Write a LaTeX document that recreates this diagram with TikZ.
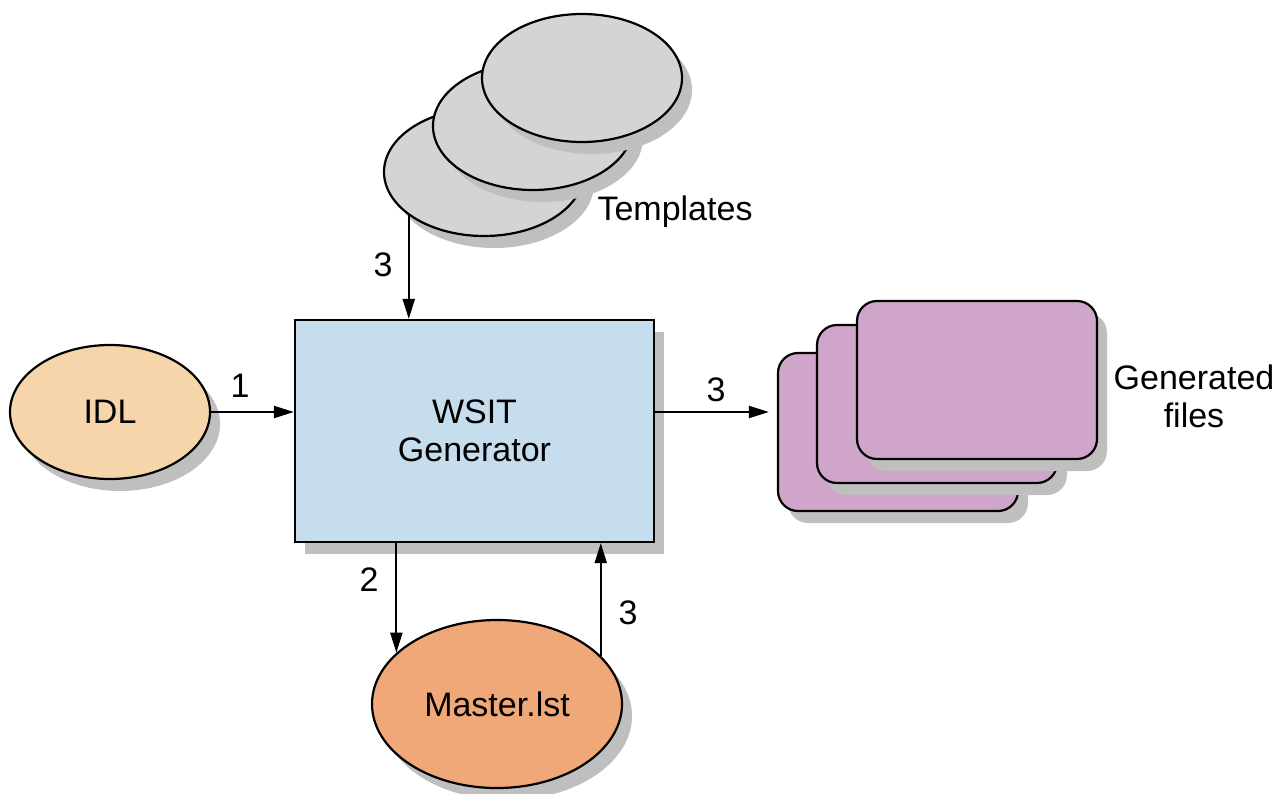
\documentclass[tikz,border=0pt]{standalone}
\usepackage{fontspec}
\setmainfont{Liberation Sans}
\usepackage{xcolor}
\usetikzlibrary{
arrows.meta,
shapes,
shadows,
positioning
}
\definecolor{idlfill}{HTML}{F5D5A9}
\definecolor{mstfill}{HTML}{F0A878}
\definecolor{genfill}{HTML}{C6DDED}
\definecolor{tplfill}{HTML}{D4D4D4}
\definecolor{filefill}{HTML}{CFA6C9}
\begin{document}
\begin{tikzpicture}[
    x=0.5pt, y=-0.5pt,
    >={Triangle[length=10pt,width=6pt]},
    font=\fontsize{17}{19}\selectfont,
    base/.style={draw, line width=1.1pt, align=center,
      drop shadow={shadow xshift=5pt, shadow yshift=-6pt, fill=black!25, opacity=1}},
    blob/.style={base, ellipse, minimum width=100pt, minimum height=64pt},
    sheet/.style={base, rounded corners=10pt, fill=filefill, minimum width=120pt, minimum height=79pt},
    flow/.style={->, line width=1pt},
    tag/.style={inner sep=0pt, align=center}]
  \useasboundingbox (0,0) rectangle (1288,793);
  % stacks, back ones first
  \foreach \i/\x/\y in {1/484/172, 2/533/126, 3/582/78}
    \node[blob, fill=tplfill] (tpl\i) at (\x,\y) {};
  \foreach \i/\x/\y in {1/898/432, 2/937/404, 3/977/380}
    \node[sheet] (file\i) at (\x,\y) {};
  \node[tag] (tpllabel) at (675,212) {Templates};
  \node[tag] (filelabel) at (1194,396) {Generated\\files};

  \node[blob, fill=idlfill, minimum height=67pt] (idl) at (110,412) {IDL};
  \node[base, fill=genfill, minimum width=179.5pt, minimum height=111pt] (gen) at (474.5,431) {WSIT\\Generator};
  \node[blob, fill=mstfill, minimum width=125pt, minimum height=84pt] (mst) at (497,704) {Master.lst};

  \draw[flow] (idl.east) -- (idl.east -| gen.west);
  \draw[flow] (gen.east |- idl.east) -- ([xshift=-4pt]file1.west |- idl.east);
  \draw[flow] (tpl1.210) -- (tpl1.210 |- gen.north);
  \draw[flow] (gen.south -| mst.153) -- (mst.153);
  \draw[flow] (mst.25) -- (mst.25 |- gen.south);

  \node[tag] (n1) at (240,386) {1};
  \node[tag] (n3a) at (383,265) {3};
  \node[tag] (n3b) at (716,390) {3};
  \node[tag] (n2) at (369,580) {2};
  \node[tag] (n3c) at (628,613) {3};
\end{tikzpicture}
\end{document}
